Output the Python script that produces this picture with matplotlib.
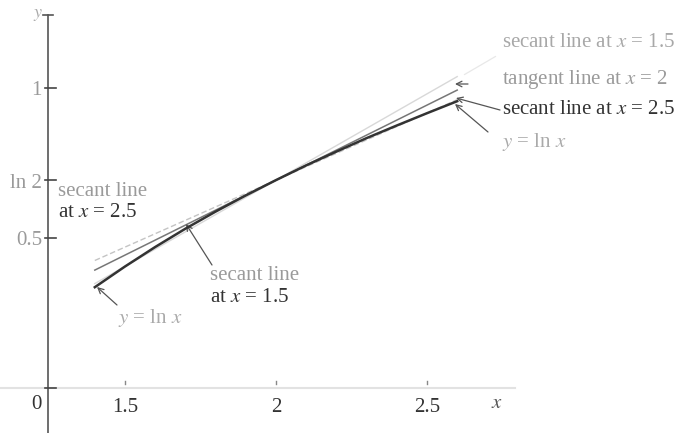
import numpy as np
import matplotlib
matplotlib.use("Agg")
import matplotlib.pyplot as plt

plt.rcParams['font.family'] = ['Liberation Serif', 'DejaVu Serif']
plt.rcParams['mathtext.fontset'] = 'stix'

# values
curve_x = [1.4, 1.5, 1.6, 1.7, 1.8, 1.9, 2.0, 2.1, 2.2, 2.3, 2.4, 2.5, 2.6]
curve_y = [0.336, 0.405, 0.470, 0.531, 0.588, 0.642, 0.693, 0.742, 0.788, 0.833, 0.875, 0.916, 0.956]
line_x = [1.4, 2.6]
tangent_y = [0.393, 0.993]
secant15_y = [0.348, 1.038]
secant25_y = [0.425, 0.961]

x_ticks = [1.5, 2, 2.5]
x_tick_labels = ["1.5", "2", "2.5"]
y_ticks = [0, 0.5, 0.693, 1]
y_tick_labels = ["0", "0.5", "ln 2", "1"]

#
# pixel -> data helper (the figure is 679x433 px)
def P(px, py):
    return (1.5 + (px - 125) / 302., (388 - py) / 300.)

fig = plt.figure(figsize=(6.79, 4.33), dpi=100)
ax = fig.add_axes([0, 0, 1, 1])
ax.set_xlim(P(0, 0)[0], P(679, 0)[0])
ax.set_ylim(P(0, 433)[1], P(0, 0)[1])
ax.axis('off')

# axes
xa = P(48, 0)[0]
ax.plot([xa, xa], [P(0, 433)[1], P(0, 15)[1]], color='#555555', lw=1.2)
ax.plot([xa - 0.015, xa + 0.015], [P(0, 15)[1]] * 2, color='#555555', lw=1.2)
ax.plot([P(0, 0)[0], P(515, 0)[0]], [0, 0], color='#e2e2e2', lw=1.5, zorder=0)
for yt in y_ticks:
    ax.plot([xa - 0.01, xa + 0.025], [yt, yt], color='#444444', lw=1.2)
for xt in x_ticks:
    ax.plot([xt, xt], [0.015, 0.025], color='#888888', lw=1.0)

# tick labels
for xt, lab in zip(x_ticks, x_tick_labels):
    ax.text(xt, P(0, 407)[1], lab, ha='center', va='center', fontsize=15, color='#333333')
for yt, lab in zip(y_ticks, y_tick_labels):
    c = '#333333' if yt == 0 else '#9a9a9a'
    dy = -0.055 if yt == 0 else -0.01
    ax.text(P(42, 0)[0], yt + dy, lab, ha='right', va='center', fontsize=15, color=c)
ax.text(*P(497, 403), '$x$', ha='center', va='center', fontsize=15, color='#555555')
ax.text(*P(38, 15), '$y$', ha='center', va='center', fontsize=13, color='#aaaaaa')

# lines
ax.plot(line_x, secant15_y, color='#d8d8d8', lw=1.0, zorder=2)
ax.plot(line_x, secant25_y, color='#c4c4c4', lw=1.0, ls=(0, (4, 2)), zorder=2)
ax.plot(line_x, tangent_y, color='#777777', lw=1.1, zorder=3)
ax.plot(curve_x, curve_y, color='#333333', lw=1.8, zorder=4)

# labels and leaders
aprops = dict(arrowstyle='->', color='#555555', lw=0.9, shrinkA=0, shrinkB=0)
fs = 15
ax.text(*P(58, 192), 'secant line', fontsize=fs, va='center', color='#9a9a9a')
ax.text(*P(58, 213), 'at $x$ = 2.5', fontsize=fs, va='center', color='#333333')

ax.text(*P(210, 276), 'secant line', fontsize=fs, va='center', color='#9a9a9a')
ax.text(*P(210, 297), 'at $x$ = 1.5', fontsize=fs, va='center', color='#333333')
ax.annotate('', xy=P(186, 224), xytext=P(212, 265), arrowprops=aprops)

ax.text(*P(118, 318), '$y$ = ln $x$', fontsize=fs, va='center', color='#aaaaaa')
ax.annotate('', xy=P(97, 287), xytext=P(117, 305), arrowprops=aprops)

ax.text(*P(502, 43), 'secant line at $x$ = 1.5', fontsize=fs, va='center', color='#a8a8a8')
ax.annotate('', xy=P(462, 76), xytext=P(498, 55),
            arrowprops=dict(arrowstyle='-', color='#e8e8e8', lw=0.9))
ax.text(*P(502, 80), 'tangent line at $x$ = 2', fontsize=fs, va='center', color='#9a9a9a')
ax.annotate('', xy=P(455, 84), xytext=P(468, 84), arrowprops=aprops)
ax.text(*P(502, 110), 'secant line at $x$ = 2.5', fontsize=fs, va='center', color='#333333')
ax.annotate('', xy=P(456, 98), xytext=P(500, 110), arrowprops=aprops)
ax.text(*P(502, 142), '$y$ = ln $x$', fontsize=fs, va='center', color='#aaaaaa')
ax.annotate('', xy=P(455, 104), xytext=P(488, 132), arrowprops=aprops)

fig.savefig('out.png', dpi=100)
